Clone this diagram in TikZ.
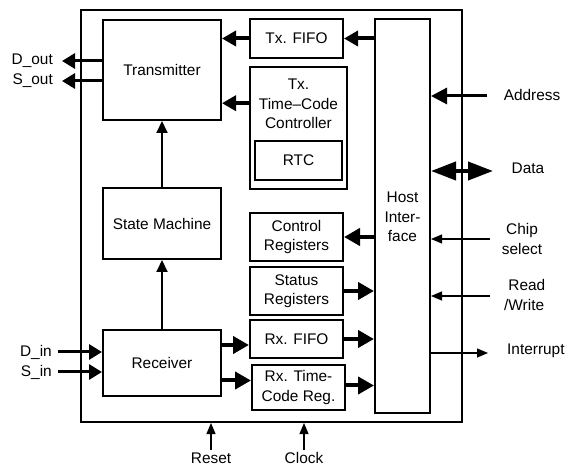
\documentclass[tikz,border=0pt]{standalone}
\usepackage{fontspec}
\setmainfont{Liberation Sans}
\usetikzlibrary{arrows.meta,calc}
\begin{document}
\begin{tikzpicture}[x=1pt,y=-1pt,
  every node/.style={font=\fontsize{15.4}{19.5}\selectfont, inner sep=0pt},
  blk/.style={draw, line width=2pt, align=center},
  bigarr/.style={line width=4pt, -{Triangle[length=16pt,width=17pt]}},
  fifoarr/.style={line width=4pt, -{Triangle[length=14pt,width=15pt]}},
  ioarr/.style={line width=3pt, -{Triangle[length=13pt,width=15pt]}},
  addrarr/.style={line width=3pt, -{Triangle[length=16pt,width=16pt]}},
  dataarr/.style={line width=4pt, {Triangle[length=25pt,width=18pt]}-{Triangle[length=25pt,width=18pt]}},
  smarr/.style={line width=2pt, -{Triangle[length=12pt,width=11pt]}},
  thinarr/.style={line width=1.2pt, -{Triangle[length=11pt,width=9pt]}},
  lbl/.style={align=left}]
\useasboundingbox (0,0) rectangle (574,468);

% outer chip box
\node[blk, minimum width=381pt, minimum height=412pt] (outer) at (271.5,216) {};

% blocks
\node[blk, minimum width=118pt, minimum height=100pt] (tx) at (162,70) {Transmitter};
\node[blk, minimum width=93pt, minimum height=39pt] (txfifo) at (296.5,38.5) {Tx. FIFO};
\node[blk, minimum width=97pt, minimum height=122pt] (txtc) at (298.5,128) {};
\node[align=center] (txtctext) at (298.5,104) {Tx.\\Time–Code\\Controller};
\node[blk, minimum width=87pt, minimum height=39pt] (rtc) at (298.5,160.5) {RTC};
\node[blk, minimum width=118pt, minimum height=71pt] (sm) at (162,223.5) {State Machine};
\node[blk, minimum width=93pt, minimum height=48pt] (ctrl) at (296.5,237) {Control\\Registers};
\node[blk, minimum width=93pt, minimum height=48pt] (stat) at (296.5,291) {Status\\Registers};
\node[blk, minimum width=93pt, minimum height=38pt] (rxfifo) at (296.5,339) {Rx. FIFO};
\node[blk, minimum width=93pt, minimum height=45pt] (rxtc) at (298.5,387.5) {Rx. Time-\\Code Reg.};
\node[blk, minimum width=118pt, minimum height=66pt] (rx) at (162,363) {Receiver};
\node[blk, minimum width=55pt, minimum height=394pt] (host) at (402.5,216) {};
\node[align=center] (hosttext) at (402.5,217) {Host\\Inter-\\face};

% internal arrows
\draw[fifoarr] (host.west |- txfifo) -- (txfifo.east);
\draw[fifoarr] (txfifo.west) -- (tx.east |- txfifo);
\coordinate (tcout) at ($(txtc.north west)!0.30!(txtc.south west)$);
\draw[fifoarr] (tcout) -- (tx.east |- tcout);
\draw[smarr] (sm.north) -- (tx.south);
\draw[smarr] (rx.north) -- (sm.south);
\draw[bigarr] (host.west |- ctrl) -- (ctrl.east);
\draw[bigarr] (stat.east) -- (host.west |- stat);
\draw[bigarr] (rxfifo.east) -- (host.west |- rxfifo);
\coordinate (rxtcout) at ([yshift=2pt]rxtc.east);
\draw[bigarr] (rxtcout) -- (host.west |- rxtcout);
\coordinate (rxa) at ([yshift=-6pt]rxfifo.west);
\draw[bigarr] (rx.east |- rxa) -- (rxa);
\coordinate (rxb) at ([yshift=7pt]rxtc.west);
\draw[bigarr] (rx.east |- rxb) -- (rxb);

% serial ports
\coordinate (dout) at (62,61);
\coordinate (sout) at (62,81);
\draw[ioarr] (tx.west |- dout) -- (dout);
\draw[ioarr] (tx.west |- sout) -- (sout);
\node[anchor=east] (doutl) at (53,61) {D\_out};
\node[anchor=east] (soutl) at (53,81) {S\_out};
\coordinate (din) at (58,352);
\coordinate (sin) at (58,372);
\draw[ioarr] (din) -- (rx.west |- din);
\draw[ioarr] (sin) -- (rx.west |- sin);
\node[anchor=east] (dinl) at (52,352) {D\_in};
\node[anchor=east] (sinl) at (52,372) {S\_in};

% host side
\coordinate (addr) at (487,96);
\draw[addrarr] (addr) -- (host.east |- addr);
\node (addrl) at (532,95) {Address};
\coordinate (data) at (493,171);
\draw[dataarr] (host.east |- data) -- (data);
\node (datal) at (528,168) {Data};
\coordinate (cs) at (490,239);
\draw[thinarr] (cs) -- (host.east |- cs);
\node[align=center] (csl) at (522,239) {Chip\\select};
\coordinate (rw) at (490,296);
\draw[thinarr] (rw) -- (host.east |- rw);
\node[align=left, anchor=west] (rwl) at (504,295) {\phantom{/}Read\\/Write};
\coordinate (intr) at (488,353);
\draw[thinarr] (host.east |- intr) -- (intr);
\node[anchor=west] (intrl) at (507,351) {Interrupt};

% reset / clock
\coordinate (rst) at (211,450);
\draw[thinarr] (rst) -- (rst |- outer.south);
\node (rstl) at (211,458) {Reset};
\coordinate (clk) at (304,450);
\draw[thinarr] (clk) -- (clk |- outer.south);
\node (clkl) at (304,458) {Clock};
\end{tikzpicture}
\end{document}
